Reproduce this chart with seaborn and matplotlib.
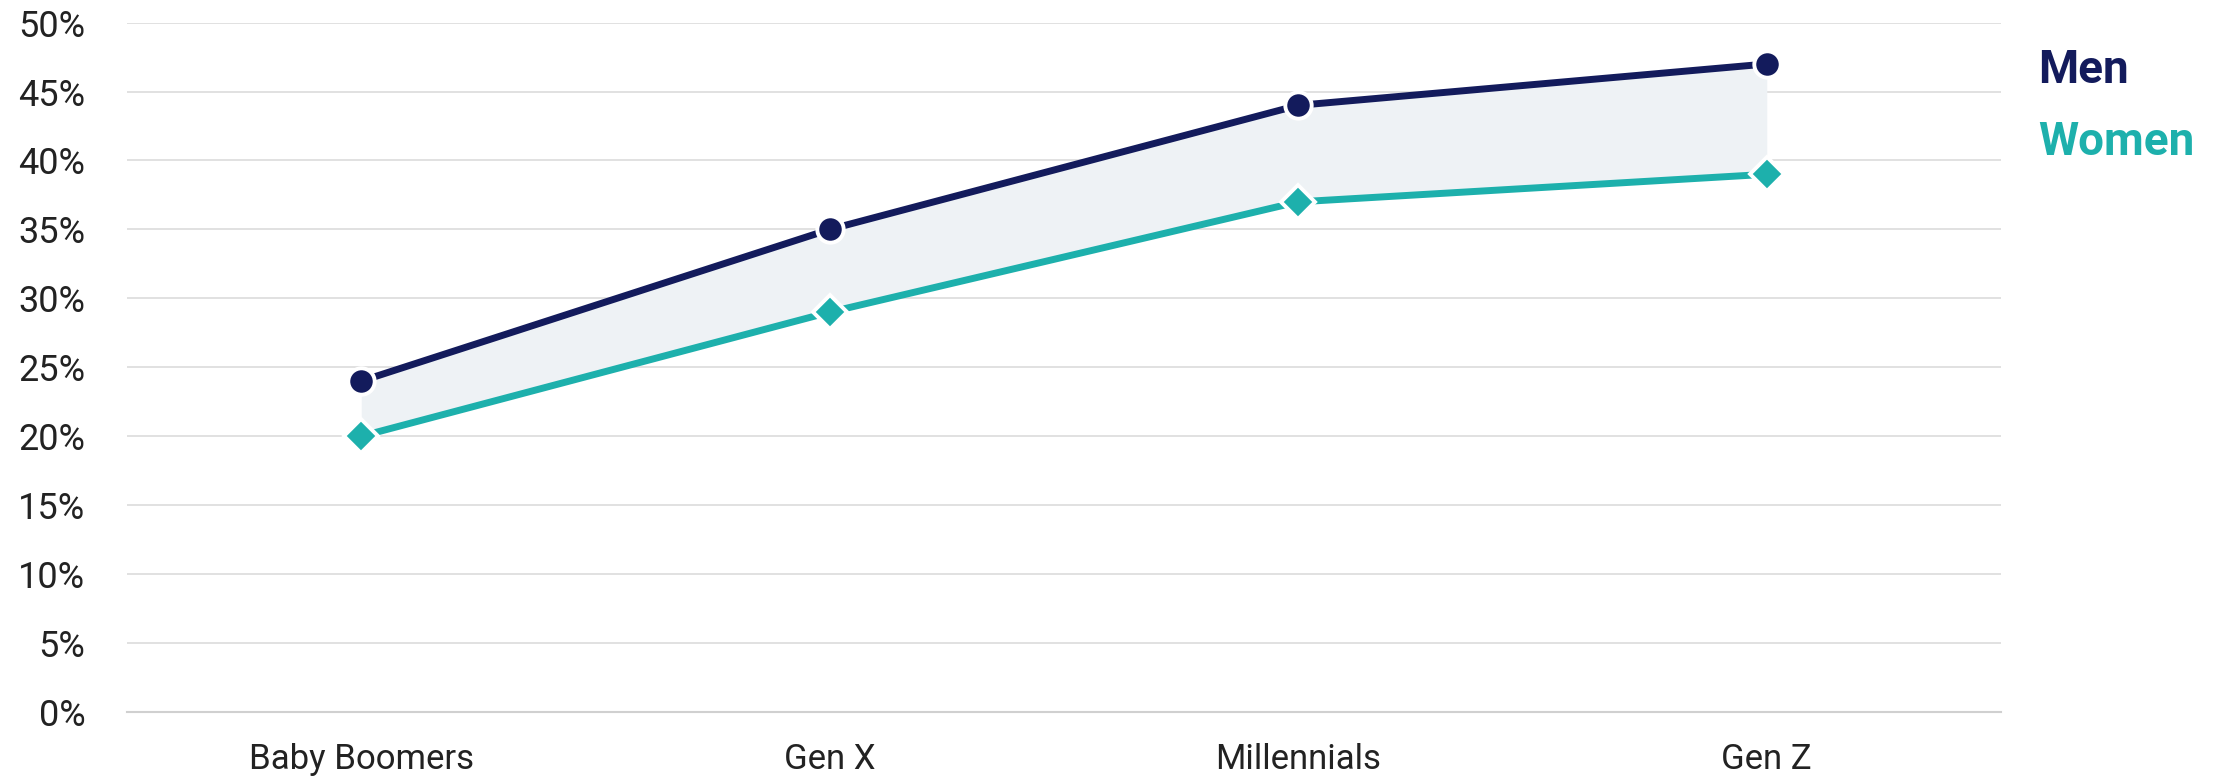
import matplotlib
matplotlib.use("Agg")
import matplotlib.pyplot as plt
import seaborn as sns
import pandas as pd
import numpy as np

categories = ["Baby Boomers", "Gen X", "Millennials", "Gen Z"]
men = [24, 35, 44, 47]
women = [20, 29, 37, 39]
yticks = [0, 5, 10, 15, 20, 25, 30, 35, 40, 45, 50]

MEN_C = "#131B5C"
WOMEN_C = "#1DB0AC"

sns.set_theme(style="white")
plt.rcParams['font.family'] = ['Roboto', 'DejaVu Sans']

df = pd.DataFrame({
    "gen": categories * 2,
    "x": list(range(len(categories))) * 2,
    "value": men + women,
    "series": ["Men"] * len(categories) + ["Women"] * len(categories),
})

fig = plt.figure(figsize=(22.16, 7.82), dpi=100)
ax = fig.add_axes([127 / 2216, 1 - 712 / 782, (2001 - 127) / 2216, (712 - 22.6) / 782])

xs = np.arange(len(categories))
ax.fill_between(xs, women, men, color="#EEF2F5", zorder=1, linewidth=0)

sns.lineplot(data=df[df.series == "Men"], x="x", y="value", ax=ax, color=MEN_C,
             linewidth=5, marker="o", markersize=19, markeredgecolor="white",
             markeredgewidth=2.8, zorder=4, legend=False)
sns.lineplot(data=df[df.series == "Women"], x="x", y="value", ax=ax, color=WOMEN_C,
             linewidth=5, marker="D", markersize=17, markeredgecolor="white",
             markeredgewidth=2.8, zorder=3, legend=False)

ax.set_xlim(-0.5, len(categories) - 0.5)
ax.set_ylim(0, 50)
ax.set_yticks(yticks)
ax.set_yticklabels([f"{v}%" for v in yticks], fontsize=26, color="#222222")
ax.yaxis.grid(True, color="#DEDEDE", linewidth=1.3)
ax.set_axisbelow(True)

ax.set_xticks(np.arange(-0.5, len(categories), 1.0))
ax.set_xticklabels([])
ax.set_xticks(xs, minor=True)
ax.set_xticklabels(categories, minor=True, fontsize=25, color="#222222")
ax.tick_params(axis="x", which="major", length=12, width=1.5, color="#D0D0D0", direction="out")
ax.tick_params(axis="x", which="minor", length=0, pad=22)
ax.tick_params(axis="y", length=0, pad=30)

for s in ["top", "right", "left"]:
    ax.spines[s].set_visible(False)
ax.spines["bottom"].set_color("#D0D0D0")
ax.spines["bottom"].set_linewidth(1.5)
ax.set_xlabel("")
ax.set_ylabel("")

fig.text(2038 / 2216, 1 - 70 / 782, "Men", color=MEN_C, fontsize=33, fontweight="bold",
         ha="left", va="center")
fig.text(2038 / 2216, 1 - 142 / 782, "Women", color=WOMEN_C, fontsize=33, fontweight="bold",
         ha="left", va="center")

fig.savefig("out.png", dpi=100)
